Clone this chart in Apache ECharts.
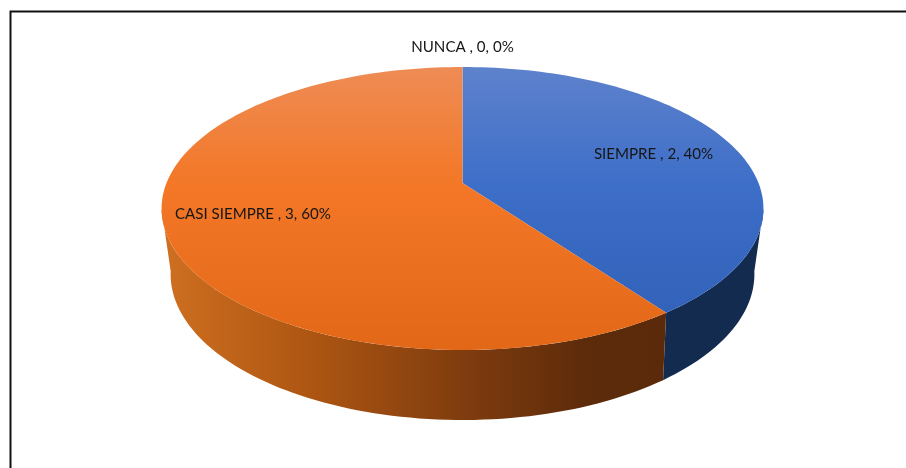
<!DOCTYPE html>
<html>
<head>
<meta charset="utf-8">
<style>html,body{margin:0;padding:0;background:#fff}#c{width:906px;height:468px}</style>
<script src="https://cdn.jsdelivr.net/npm/echarts@6/dist/echarts.min.js"></script>
</head>
<body>
<div id="c"></div>
<script>
// Data
const categories = ['SIEMPRE ', 'CASI SIEMPRE ', 'NUNCA '];
const values = [2, 3, 0];

// Styles per category
const topStops = [
  [[0, '#5E82CC'], [0.42, '#3D6EC8'], [1, '#2F5FB5']],
  [[0, '#EE8C55'], [0.42, '#F37726'], [1, '#E26818']],
  [[0, '#A5A5A5'], [1, '#888888']]
];
const sideStops = [
  [[0, '#15305A'], [1, '#142B50']],
  [[0, '#CE6F20'], [0.3, '#AC5512'], [0.6, '#7F3C0E'], [0.85, '#5C2B0A'], [1, '#5A2A0A']],
  [[0, '#666666'], [1, '#444444']]
];
const labelRadius = [0.705, 0.715, 1.21];

// Perspective projection of the pie disc
const cx = 462.5;
const upper = { yc: 183, R: 296, S: 136.9, p: 0.1802 };
const lower = { yc: 245, R: 286, S: 140, p: 0.2 };
function proj(ring, deg, r) {
  const t = deg * Math.PI / 180;
  const X = Math.sin(t) * r, Y = Math.cos(t) * r;
  const w = 1 + ring.p * Y;
  return [cx + ring.R * X / w, ring.yc - ring.S * Y / w];
}
const total = values.reduce((a, b) => a + b, 0);
const starts = [];
values.reduce((acc, v, i) => { starts[i] = acc; return acc + v; }, 0);
const angle = v => v / total * 360;

function arc(ring, a0, a1) {
  const pts = [];
  const n = Math.max(2, Math.ceil(Math.abs(a1 - a0) / 1.5));
  for (let i = 0; i <= n; i++) pts.push(proj(ring, a0 + (a1 - a0) * i / n, 1));
  return pts;
}
const visA = Math.acos(-upper.p) * 180 / Math.PI;

function renderSide(params, api) {
  const i = params.dataIndex;
  if (api.value(0) === 0) return { type: 'group', children: [] };
  const a0 = Math.max(angle(starts[i]), visA);
  const a1 = Math.min(angle(starts[i] + api.value(0)), 360 - visA);
  if (a1 <= a0) return { type: 'group', children: [] };
  const pts = arc(upper, a0, a1).concat(arc(lower, a1, a0));
  return {
    type: 'polygon',
    shape: { points: pts },
    style: {
      fill: { type: 'linear', x: 165, y: 0, x2: 665, y2: 0, global: true,
        colorStops: sideStops[i].map(s => ({ offset: s[0], color: s[1] })) }
    }
  };
}
function renderTop(params, api) {
  const i = params.dataIndex;
  if (api.value(0) === 0) return { type: 'group', children: [] };
  const a0 = angle(starts[i]);
  const a1 = angle(starts[i] + api.value(0));
  const pts = [[cx, upper.yc]].concat(arc(upper, a0, a1));
  return {
    type: 'polygon',
    shape: { points: pts },
    style: {
      fill: { type: 'linear', x: 0, y: 67, x2: 0, y2: 350, global: true,
        colorStops: topStops[i].map(s => ({ offset: s[0], color: s[1] })) }
    }
  };
}
function renderLabel(params, api) {
  const i = params.dataIndex;
  const v = api.value(0);
  const mid = angle(starts[i] + v / 2);
  const pos = proj(upper, mid, labelRadius[i]);
  return {
    type: 'text',
    style: {
      x: pos[0], y: pos[1],
      text: categories[i] + ', ' + v + ', ' + Math.round(v / total * 100) + '%',
      fill: '#161616',
      font: '15.1px Lato, "Open Sans", sans-serif',
      align: 'center', verticalAlign: 'middle'
    }
  };
}
const rows = values.map(v => [v]);
const chart = echarts.init(document.getElementById('c'), null, { renderer: 'canvas' });
chart.setOption({
  animation: false,
  backgroundColor: '#ffffff',
  graphic: [{
    type: 'polyline',
    shape: { points: [[10.5, 468], [10.5, 11.5], [906, 11.5]] },
    style: { stroke: '#111111', lineWidth: 2, fill: null },
    z: 0
  }],
  series: [
    { type: 'custom', coordinateSystem: 'none', renderItem: renderSide, data: rows, z: 1, silent: true },
    { type: 'custom', coordinateSystem: 'none', renderItem: renderTop, data: rows, z: 2, silent: true },
    { type: 'custom', coordinateSystem: 'none', renderItem: renderLabel, data: rows, z: 3, silent: true }
  ]
});
</script>
</body>
</html>
